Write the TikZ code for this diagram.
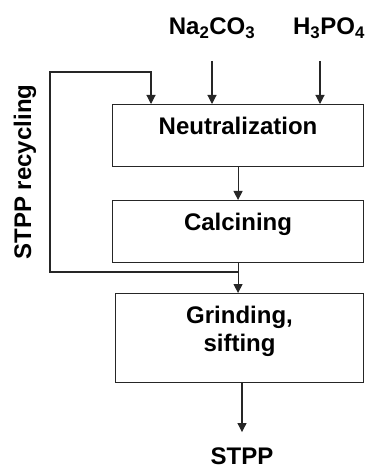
\documentclass[tikz,border=0pt]{standalone}
\usepackage{fontspec}
\setmainfont{Liberation Sans}
\usetikzlibrary{arrows.meta, positioning}

\tikzset{
  txt/.style={font=\fontsize{24bp}{28bp}\selectfont\bfseries},
  stage/.style={txt, draw=black!85, line width=1.1bp, minimum width=251bp,
    text height=18bp, text depth=20bp, inner ysep=12bp, anchor=north west},
  flow/.style={draw=black!85, line width=1.1bp, -{Triangle[width=9bp,length=9bp]}},
  feed/.style={txt, anchor=base},
}

\begin{document}
\begin{tikzpicture}[x=1bp, y=-1bp]
  \useasboundingbox (0,0) rectangle (364,468);

  % process stages
  \node[stage] (neut) at (112,104) {Neutralization};
  \node[stage] (calc) at (112,200) {Calcining};
  \node[stage, minimum width=248bp, text height=46bp, text depth=19bp, align=center] (grind) at (115,293) {Grinding,\\sifting};

  % raw materials and product
  \node[feed] (na) at (212,35) {Na\textsubscript{2}CO\textsubscript{3}};
  \node[feed] (h3) at (329,35) {H\textsubscript{3}PO\textsubscript{4}};
  \node[feed, inner sep=1bp] (stpp) at (242,464) {STPP};
  \node[txt, rotate=90] (recyc) at (25,172) {STPP recycling};

  % feeds
  \draw[flow] ([yshift=-26bp]na.base) -- (na.base |- neut.north);
  \draw[flow] ([xshift=-9bp,yshift=-26bp]h3.base) -- ([xshift=-9bp]h3.base |- neut.north);

  % main line
  \draw[flow] (neut.south) -- (calc.north);
  \draw[flow] (calc.south) -- (calc.south |- grind.north);
  \draw[flow] (grind.south -| stpp) -- ([yshift=14bp]stpp.north);

  % recycling loop
  \coordinate (loopTop) at (50,72);
  \coordinate (loopBot) at (50,272);
  \draw[flow] (loopBot -| calc.south) -- (loopBot) -- (loopTop) -| ([xshift=39bp]neut.north west);
\end{tikzpicture}
\end{document}
